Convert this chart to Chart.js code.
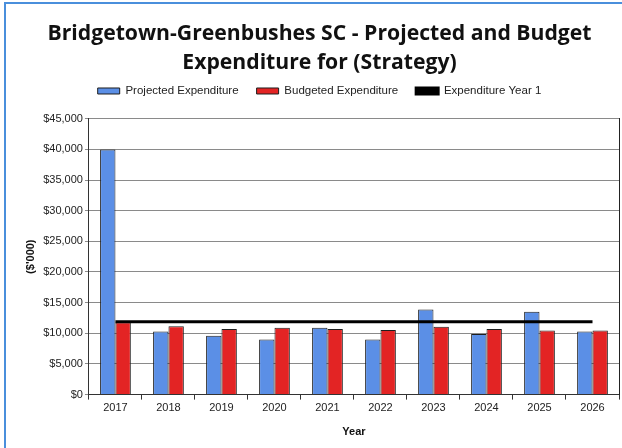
<!DOCTYPE html>
<html>
<head>
<meta charset="utf-8">
<script src="https://cdn.jsdelivr.net/npm/chart.js@4.4.1/dist/chart.umd.min.js"></script>
<style>
  html, body { margin: 0; padding: 0; background: #fff; }
  #wrap { position: relative; width: 622px; height: 448px; overflow: hidden; }
  #frame {
    position: absolute; left: 4px; top: 2px; width: 640px; height: 470px;
    border: 2px solid #4a8fdc; box-sizing: border-box; pointer-events: none;
  }
  canvas { position: absolute; left: 0; top: 0; }
</style>
</head>
<body>
<div id="wrap">
  <div id="frame"></div>
  <canvas id="chart" width="622" height="448"></canvas>
</div>
<script>
    // =========================
    // Données
    // =========================

    const years = ['2017', '2018', '2019', '2020', '2021', '2022', '2023', '2024', '2025', '2026'];
    const projected = [40000, 10300, 9600, 9000, 10900, 9000, 13900, 9900, 13500, 10300];
    const budgeted = [11800, 11150, 10700, 10900, 10700, 10550, 11050, 10700, 10450, 10450];
    const yearOne = [11900, 11900, 11900, 11900, 11900, 11900, 11900, 11900, 11900, 11900];

    const yMax = 45000;
    const yStep = 5000;

    const axisFont = { family: '"Liberation Sans", Arial, sans-serif', size: 11 };
    const boldFont = { family: '"Liberation Sans", Arial, sans-serif', size: 11, weight: 'bold' };

    // un peu d'espace sous la légende
    const legendMargin = {
      id: 'legendMargin',
      beforeInit(chart) {
        const fit = chart.legend.fit;
        chart.legend.fit = function () {
          fit.bind(chart.legend)();
          this.height += 12;
        };
      }
    };

    // =========================
    // Graphique
    // =========================

    const ctx = document.getElementById('chart');

    new Chart(ctx, {
      type: 'bar',
      data: {
        labels: years,
        datasets: [
          {
            label: 'Projected Expenditure',
            data: projected,
            backgroundColor: '#5b8fe6',
            borderColor: '#1e1e1e',
            borderWidth: 1,
            order: 1
          },
          {
            label: 'Budgeted Expenditure',
            data: budgeted,
            backgroundColor: '#e32424',
            borderColor: '#1e1e1e',
            borderWidth: 1,
            order: 1
          },
          {
            type: 'line',
            label: 'Expenditure Year 1',
            data: yearOne,
            borderColor: '#000',
            backgroundColor: '#000',
            borderWidth: 3,
            pointRadius: 0,
            order: 0
          }
        ]
      },
      plugins: [legendMargin],
      options: {
        responsive: false,
        animation: false,
        layout: {
          padding: { left: 20, right: 3, top: 8, bottom: 5 }
        },
        datasets: {
          bar: {
            categoryPercentage: 0.58,
            barPercentage: 1
          }
        },
        plugins: {
          title: {
            display: true,
            text: ['Bridgetown-Greenbushes SC - Projected and Budget', 'Expenditure for (Strategy)'],
            color: '#111',
            font: { family: '"Open Sans", sans-serif', size: 21.2, weight: 'bold', lineHeight: 1.35 },
            padding: { top: 12, bottom: -10 }
          },
          legend: {
            position: 'top',
            labels: {
              color: '#222',
              font: { family: '"Liberation Sans", Arial, sans-serif', size: 11.5 },
              boxWidth: 22,
              boxHeight: 6,
              padding: 18,
              sort: (a, b) => a.datasetIndex - b.datasetIndex
            }
          },
          tooltip: { enabled: false }
        },
        scales: {
          x: {
            offset: true,
            grid: {
              offset: true,
              drawOnChartArea: false,
              drawTicks: true,
              tickLength: 5,
              color: '#333'
            },
            border: { color: '#333', width: 1 },
            ticks: { color: '#222', font: axisFont, padding: 2 },
            title: { display: true, text: 'Year', color: '#111', font: boldFont, padding: { top: 9 } }
          },
          y: {
            min: 0,
            max: yMax,
            ticks: {
              stepSize: yStep,
              color: '#222',
              font: axisFont,
              padding: 2,
              callback: (v) => '$' + v.toLocaleString('en-US')
            },
            grid: { color: '#8a8a8a', tickLength: 4 },
            border: { color: '#333', width: 1 },
            title: { display: true, text: "($'000)", color: '#111', font: boldFont, padding: { bottom: 4 } }
          },
          y2: {
            position: 'right',
            min: 0,
            max: yMax,
            ticks: { display: false },
            grid: { drawOnChartArea: false, drawTicks: false },
            border: { color: '#222', width: 1 }
          }
        }
      }
    });
</script>
</body>
</html>
